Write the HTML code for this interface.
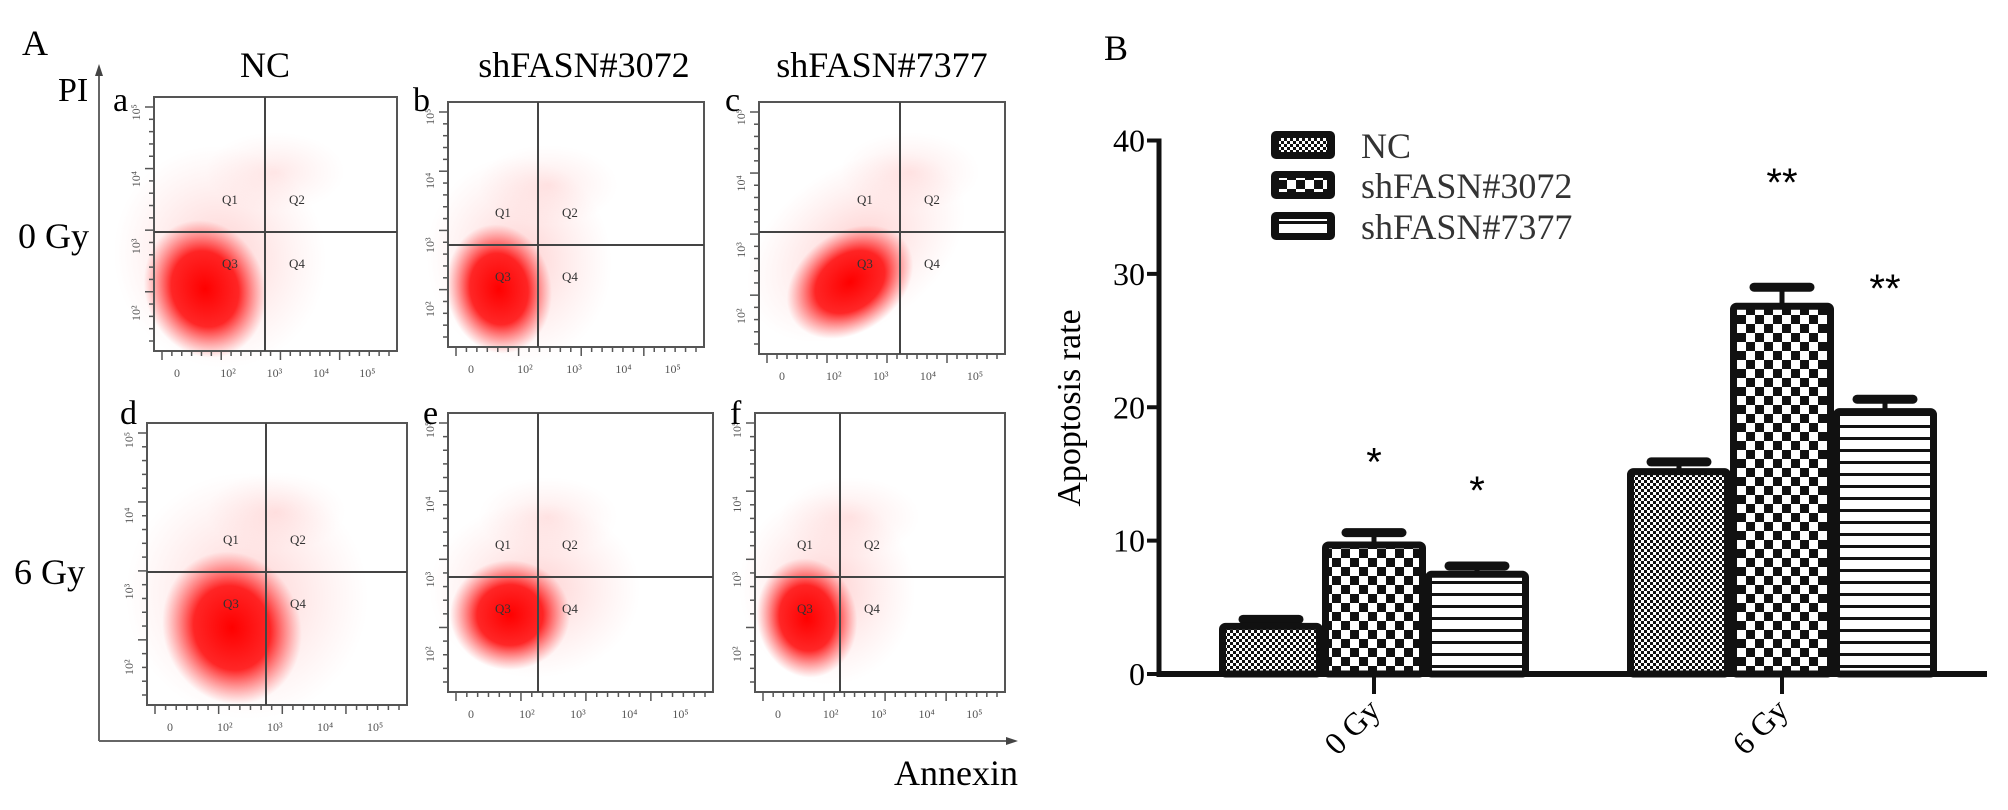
<!DOCTYPE html>
<html><head><meta charset="utf-8">
<style>
html,body{margin:0;padding:0;background:#fff;}
body{width:2008px;height:810px;overflow:hidden;position:relative;font-family:"Liberation Serif",serif;}
svg{position:absolute;left:0;top:0;}
</style></head>
<body>
<svg id="fig" width="2008" height="810" viewBox="0 0 2008 810">
<defs>
  <pattern id="pNC" width="6" height="6" patternUnits="userSpaceOnUse">
    <rect width="6" height="6" fill="#fff"/><rect width="3" height="3" fill="#111"/><rect x="3" y="3" width="3" height="3" fill="#111"/>
  </pattern>
  <pattern id="p3072" width="18" height="18" patternUnits="userSpaceOnUse">
    <rect width="18" height="18" fill="#fff"/><rect x="0" y="0" width="9" height="9" fill="#111"/><rect x="9" y="9" width="9" height="9" fill="#111"/>
  </pattern>
  <pattern id="p7377" width="12" height="12" patternUnits="userSpaceOnUse">
    <rect width="12" height="12" fill="#fff"/><rect y="5" width="12" height="3" fill="#111"/>
  </pattern>
  <radialGradient id="gCore"><stop offset="0" stop-color="#ff0000" stop-opacity="1"/><stop offset="0.55" stop-color="#ff1010" stop-opacity="0.9"/><stop offset="1" stop-color="#ff4040" stop-opacity="0"/></radialGradient>
  <radialGradient id="gHalo"><stop offset="0" stop-color="#ff6060" stop-opacity="0.3"/><stop offset="1" stop-color="#ff9090" stop-opacity="0"/></radialGradient>
</defs>

<g>
  <text x="22" y="55" font-size="36">A</text>
  <text x="58" y="101" font-size="34">PI</text>
  <text x="265" y="77" font-size="36" text-anchor="middle">NC</text>
  <text x="584" y="77" font-size="36" text-anchor="middle">shFASN#3072</text>
  <text x="882" y="77" font-size="36" text-anchor="middle">shFASN#7377</text>
  <text x="18" y="248" font-size="36">0 Gy</text>
  <text x="14" y="584" font-size="36">6 Gy</text>
  <line x1="99" y1="741" x2="99" y2="68" stroke="#666" stroke-width="2"/>
  <path d="M95,76 L99,64 L103,76 Z" fill="#444"/>
  <line x1="99" y1="741" x2="1012" y2="741" stroke="#666" stroke-width="2"/>
  <path d="M1006,737 L1018,741 L1006,745 Z" fill="#444"/>
  <text x="1018" y="785" font-size="36" text-anchor="end">Annexin</text>
  <g id="flows"></g>
</g>

<g>
  <text x="1104" y="60" font-size="36">B</text>
  <g id="chart"></g>
</g>
</svg>

<script>
const categories = ["0 Gy", "6 Gy"];
const seriesNames = ["NC", "shFASN#3072", "shFASN#7377"];
const ncValues = [3.8, 15.4];
const sh3072Values = [9.9, 27.8];
const sh7377Values = [7.7, 19.9];
const ncErrors = [0.3, 0.5];
const sh3072Errors = [0.7, 1.2];
const sh7377Errors = [0.4, 0.7];
const sh3072Marks = ["*", "**"];
const sh7377Marks = ["*", "**"];
const yTicks = [0, 10, 20, 30, 40];

const NS = "http://www.w3.org/2000/svg";
function mk(tag, attrs, parent){ const e=document.createElementNS(NS,tag); for(const k in attrs) e.setAttribute(k,attrs[k]); if(parent) parent.appendChild(e); return e; }

const chart = document.getElementById('chart');
const X0 = 1159, X1 = 1987, Y0 = 674, Y40 = 140.5;
const yMax = 40;
function yScale(v){ return Y0 - (v / yMax) * (Y0 - Y40); }
const groupCenters = [1374, 1782];
const barW = 103;
function xBar(ci, si){ return groupCenters[ci] - 1.5*barW + si*barW; }

const allValues = [ncValues, sh3072Values, sh7377Values];
const allErrors = [ncErrors, sh3072Errors, sh7377Errors];
const fills = ["url(#pNC)", "url(#p3072)", "url(#p7377)"];
const keys = ["nc", "shfasn3072", "shfasn7377"];

const yAxis = mk('line', {x1:X0, y1:Y40-2, x2:X0, y2:Y0+3, stroke:'#111', 'stroke-width':5}, chart);


yTicks.forEach(t => {
  const y = yScale(t);
  const tk = mk('line', {x1:X0-12, y1:y, x2:X0, y2:y, stroke:'#111', 'stroke-width':4}, chart);
  
  
  const lb = mk('text', {x:X0-14, y:y+11, 'font-size':32, 'text-anchor':'end'}, chart);
  lb.textContent = t;
  
  
});
const yt = mk('text', {x:0, y:0, 'font-size':34, 'text-anchor':'middle', transform:'translate(1080,408) rotate(-90)'}, chart);
yt.textContent = 'Apoptosis rate';



const starOffsets = [[85, 90], [119, 125]]; // [category][series 3072/7377] gap above error cap
categories.forEach((cat, ci) => {
  allValues.forEach((vals, si) => {
    const x = xBar(ci, si), v = vals[ci], e = allErrors[si][ci];
    const yTop = yScale(v), yErr = yScale(v + e);
    const stem = mk('line', {x1:x+barW/2, y1:yTop, x2:x+barW/2, y2:yErr, stroke:'#111', 'stroke-width':5}, chart);
    
    
    const cap = mk('line', {x1:x+barW/2-28, y1:yErr, x2:x+barW/2+28, y2:yErr, stroke:'#111', 'stroke-width':9, 'stroke-linecap':'round'}, chart);
    
    
    const r = mk('rect', {x:x+3, y:yTop+3, width:barW-6, height:Y0-yTop-3, fill:fills[si], stroke:'#111', 'stroke-width':7, rx:3}, chart);
    
    
  });
  [[sh3072Marks, 1, sh3072Values, sh3072Errors], [sh7377Marks, 2, sh7377Values, sh7377Errors]].forEach(([marks, si, vals, errs]) => {
    const cx = xBar(ci, si) + barW/2;
    const yy = yScale(vals[ci] + errs[ci]) - starOffsets[ci][si-1];
    const s = mk('text', {x:cx, y:yy + 28, 'font-size':40, 'text-anchor':'middle', 'font-family':'Liberation Sans, sans-serif'}, chart);
    s.textContent = marks[ci];
    
    
  });
  const gt = mk('line', {x1:groupCenters[ci], y1:Y0, x2:groupCenters[ci], y2:Y0+20, stroke:'#111', 'stroke-width':4}, chart);
  
  
  const cl = mk('text', {x:0, y:0, 'font-size':32, 'text-anchor':'end', transform:'translate(' + (groupCenters[ci]+8) + ',712) rotate(-45)'}, chart);
  cl.textContent = cat;
  
  
});
const xAxis = mk('line', {x1:X0-2, y1:Y0, x2:X1, y2:Y0, stroke:'#111', 'stroke-width':6}, chart);



const legYs = [145, 185, 226];
seriesNames.forEach((n, si) => {
  const b = mk('rect', {x:1271, y:legYs[si]-14, width:64, height:28, rx:5, fill:'#111'}, chart);
  
  
  const inner = mk('rect', {x:1279, y:legYs[si]-7, width:48, height:14, fill:fills[si]}, chart);
  
  
  const t = mk('text', {x:1361, y:legYs[si]+13, 'font-size':36, fill:'#333'}, chart);
  t.textContent = n;
  
  
});

const flows = document.getElementById('flows');
const panels = [
  {id:'a', x:154, y:97, w:243, h:254, vx:265, hy:232, lx:113, ly:111, blob:[205,289,48,56,-20]},
  {id:'b', x:448, y:102, w:256, h:245, vx:538, hy:245, lx:413, ly:111, blob:[499,289,42,52,-10]},
  {id:'c', x:759, y:102, w:246, h:252, vx:900, hy:232, lx:725, ly:111, blob:[850,282,55,40,-35]},
  {id:'d', x:147, y:423, w:260, h:282, vx:266, hy:572, lx:120, ly:424, blob:[232,628,55,62,-20]},
  {id:'e', x:448, y:413, w:265, h:279, vx:538, hy:577, lx:423, ly:424, blob:[510,615,48,44,0]},
  {id:'f', x:755, y:413, w:250, h:279, vx:840, hy:577, lx:730, ly:424, blob:[807,618,40,48,-10]}
];
panels.forEach(p => {
  const g = mk('g', {}, flows);
  
  
  const [bx,by,rx,ry,rot] = p.blob;
  mk('ellipse', {cx:bx+25, cy:by-25, rx:rx*2.2, ry:ry*2.0, fill:'url(#gHalo)', transform:'rotate('+rot+' '+bx+' '+by+')'}, g);
  mk('ellipse', {cx:p.vx+10, cy:p.hy-60, rx:70, ry:40, fill:'url(#gHalo)', opacity:0.5}, g);
  mk('ellipse', {cx:bx, cy:by, rx:rx*1.25, ry:ry*1.25, fill:'url(#gCore)', transform:'rotate('+rot+' '+bx+' '+by+')'}, g);
  const box = mk('rect', {x:p.x, y:p.y, width:p.w, height:p.h, fill:'none', stroke:'#555', 'stroke-width':2}, g);
  
  
  mk('line', {x1:p.vx, y1:p.y, x2:p.vx, y2:p.y+p.h, stroke:'#444', 'stroke-width':2}, g);
  mk('line', {x1:p.x, y1:p.hy, x2:p.x+p.w, y2:p.hy, stroke:'#444', 'stroke-width':2}, g);
  for (let i=0;i<24;i++){ const tx=p.x+8+i*(p.w-16)/23; mk('line',{x1:tx,y1:p.y+p.h,x2:tx,y2:p.y+p.h+(i%6===0?9:5),stroke:'#555','stroke-width':1.5},g); }
  for (let i=0;i<20;i++){ const ty=p.y+10+i*(p.h-20)/19; mk('line',{x1:p.x,y1:ty,x2:p.x-(i%5===0?9:5),y2:ty,stroke:'#555','stroke-width':1.5},g); }
  ['0','10²','10³','10⁴','10⁵'].forEach((s,i)=>{ const t=mk('text',{x:p.x+20+i*(p.w-30)/4.6,y:p.y+p.h+26,'font-size':12,fill:'#555'},g); t.textContent=s; });
  ['10²','10³','10⁴','10⁵'].forEach((s,i)=>{ const t=mk('text',{x:0,y:0,'font-size':12,fill:'#555',transform:'translate('+(p.x-14)+','+(p.y+p.h-30-i*(p.h-40)/3.2)+') rotate(-90)'},g); t.textContent=s; });
  [['Q1',-35,-28],['Q2',32,-28],['Q3',-35,36],['Q4',32,36]].forEach(([q,dx,dy])=>{ const t=mk('text',{x:p.vx+dx,y:p.hy+dy,'font-size':13,fill:'#333','text-anchor':'middle'},g); t.textContent=q; });
  const lt = mk('text', {x:p.lx, y:p.ly, 'font-size':34}, g);
  lt.textContent = p.id;
  
  
});
</script>
</body></html>
